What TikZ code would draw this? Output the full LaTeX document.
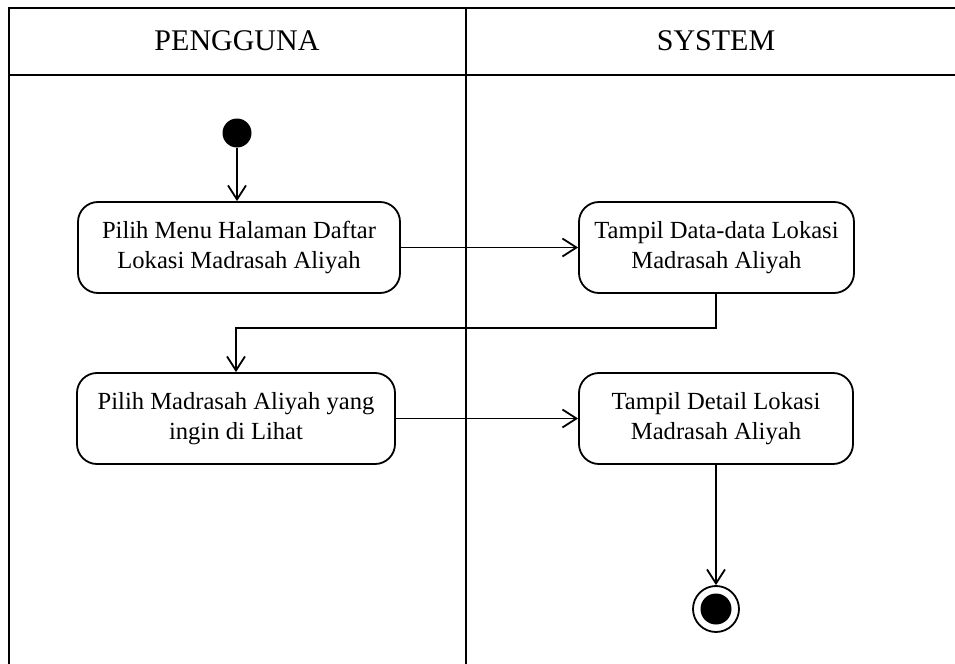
\documentclass[tikz,border=0pt]{standalone}
\usepackage{fontspec}
\setmainfont{Liberation Serif}
\usetikzlibrary{arrows.meta,positioning}

\begin{document}
\begin{tikzpicture}[x=0.5pt,y=-0.5pt,->,>={Straight Barb[length=7pt,width=9pt]},line width=0.9pt]
  \tikzstyle{aktivitas}=[draw=black,rounded corners=10pt,align=center,minimum height=45.5pt,inner sep=0pt,font=\fontsize{12.3}{15}\selectfont]
  \tikzstyle{judul}=[font=\fontsize{15}{18}\selectfont]
  \tikzstyle{garis}=[-,line width=1.3pt]

  \useasboundingbox (0,0) rectangle (955,664);
  % swimlane
  \draw[garis] (955,8) -- (9,8) -- (9,664);
  \draw[garis] (9,75) -- (955,75);
  \draw[garis] (466,8) -- (466,664);
  \node[judul] (pengguna) at (237,41) {PENGGUNA};
  \node[judul] (sistem)   at (716,41) {SYSTEM};

  \node[circle,fill=black,minimum size=14.5pt,inner sep=0pt] (mulai) at (237,133) {};
  \node[aktivitas,minimum width=161pt] (pilihmenu)   at (239,247.5) {Pilih Menu Halaman Daftar\\Lokasi Madrasah Aliyah};
  \node[aktivitas,minimum width=137.5pt] (tampildata) at (716.5,247.5) {Tampil Data-data Lokasi\\Madrasah Aliyah};
  \node[aktivitas,minimum width=159pt] (pilihma)     at (236,418.5) {Pilih Madrasah Aliyah yang\\ingin di Lihat};
  \node[aktivitas,minimum width=137pt] (tampildetail) at (716,418.5) {Tampil Detail Lokasi\\Madrasah Aliyah};
  \node[circle,draw=black,minimum size=23pt,inner sep=0pt] (akhir) at (716,609) {};
  \node[circle,fill=black,minimum size=15.5pt,inner sep=0pt] (akhirdot) at (akhir) {};

  \draw (mulai) -- (pilihmenu.north -| mulai);
  \draw (pilihmenu.east) -- (tampildata.west);
  \draw (tampildata.south -| akhir) -- ++(0,34) -| (pilihma.north);
  \draw (pilihma.east) -- (tampildetail.west);
  \draw (tampildetail.south -| akhir) -- (akhir.north);
\end{tikzpicture}
\end{document}
